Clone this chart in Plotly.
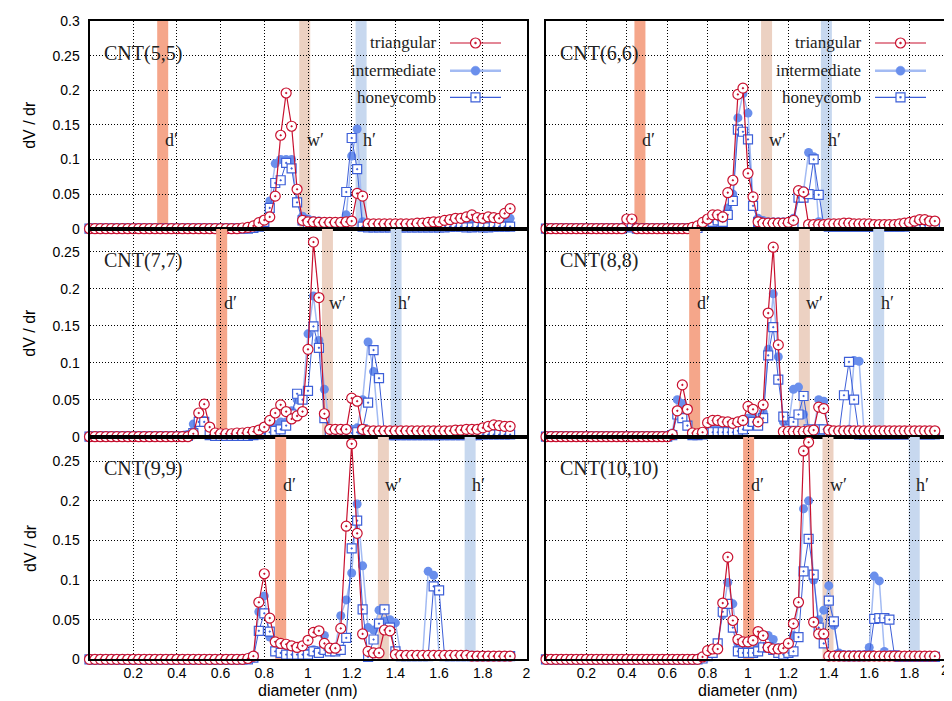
import plotly.graph_objects as go

# ---------------- data ----------------
diameter = [0.0, 0.025, 0.05, 0.075, 0.1, 0.125, 0.15, 0.175, 0.2, 0.225,
            0.25, 0.275, 0.3, 0.325, 0.35, 0.375, 0.4, 0.425, 0.45, 0.475,
            0.5, 0.525, 0.55, 0.575, 0.6, 0.625, 0.65, 0.675, 0.7, 0.725,
            0.75, 0.775, 0.8, 0.825, 0.85, 0.875, 0.9, 0.925, 0.95, 0.975,
            1.0, 1.025, 1.05, 1.075, 1.1, 1.125, 1.15, 1.175, 1.2, 1.225,
            1.25, 1.275, 1.3, 1.325, 1.35, 1.375, 1.4, 1.425, 1.45, 1.475,
            1.5, 1.525, 1.55, 1.575, 1.6, 1.625, 1.65, 1.675, 1.7, 1.725,
            1.75, 1.775, 1.8, 1.825, 1.85, 1.875, 1.9, 1.925]

Z10 = [0] * 10

# CNT(5,5)
tri_55 = Z10 + Z10 + [0, 0, 0, 0, 0, 0, 0, 0, 0.001, 0.002] + \
    [0.004, 0.0087, 0.0125, 0.017, 0.047, 0.135, 0.196, 0.148, 0.057, 0.012,
     0.010, 0.010, 0.009, 0.009, 0.009, 0.009, 0.009, 0.010, 0.011, 0.051,
     0.047, 0.007, 0.007, 0.007, 0.007, 0.007, 0.007, 0.007, 0.007, 0.007,
     0.008, 0.008, 0.009, 0.010, 0.010, 0.012, 0.013, 0.015, 0.015, 0.017,
     0.020, 0.016, 0.015, 0.017, 0.016, 0.015, 0.022, 0.029]
int_55 = Z10 + Z10 + Z10 + \
    [0.002, 0.005, 0.012, 0.040, 0.094, 0.100, 0.100, 0.100, 0.040, 0.018,
     0.014, 0.012, 0.011, 0.010, 0.010, 0.010, 0.010, 0.020, 0.105, 0.144,
     0.010, 0.006, 0.005, 0.005, 0.004, 0.004, 0.004, 0.004, 0.004, 0.004,
     0.004, 0.004, 0.005, 0.005, 0.005, 0.006, 0.006, 0.007, 0.007, 0.008,
     0.008, 0.008, 0.009, 0.009, 0.010, 0.010, 0.012, 0.015]
hon_55 = Z10 + Z10 + Z10 + \
    [0.001, 0.003, 0.010, 0.030, 0.066, 0.070, 0.095, 0.087, 0.038, 0.012,
     0.008, 0.007, 0.006, 0.006, 0.005, 0.005, 0.006, 0.053, 0.131, 0.086,
     0.003, 0.002, 0.002, 0.002, 0.002, 0.002, 0.002, 0.002, 0.002, 0.002,
     0.002, 0.002, 0.002, 0.002, 0.002, 0.002, 0.003, 0.003, 0.003, 0.002,
     0.002, 0.003, 0.002, 0.002, 0.003, 0.003, 0.003, 0.003]

# CNT(6,6)
tri_66 = Z10 + [0, 0, 0, 0, 0, 0, 0.014, 0.014, 0, 0] + \
    [0, 0, 0, 0, 0, 0, 0, 0, 0, 0.002,
     0.004, 0.009, 0.014, 0.020, 0.020, 0.017, 0.052, 0.070, 0.194, 0.203,
     0.080, 0.046, 0.010, 0.008, 0.008, 0.008, 0.008, 0.008, 0.009, 0.012,
     0.055, 0.053, 0.006, 0.006, 0.006, 0.006, 0.007, 0.007, 0.007, 0.008,
     0.008, 0.007, 0.007, 0.007, 0.007, 0.006, 0.006, 0.006, 0.006, 0.006,
     0.007, 0.008, 0.009, 0.011, 0.013, 0.013, 0.011, 0.011]
int_66 = Z10 + [0, 0, 0, 0, 0, 0, 0.006, 0.004, 0, 0] + Z10 + \
    [0.002, 0.006, 0.010, 0.015, 0.015, 0.012, 0.030, 0.050, 0.160, 0.195,
     0.167, 0.040, 0.015, 0.012, 0.010, 0.010, 0.010, 0.010, 0.010, 0.015,
     0.050, 0.055, 0.110, 0.104, 0.010, 0.005, 0.005, 0.005, 0.005, 0.005,
     0.005, 0.005, 0.005, 0.005, 0.005, 0.005, 0.005, 0.006, 0.006, 0.006,
     0.006, 0.007, 0.008, 0.008, 0.009, 0.010, 0.011, 0.012]
hon_66 = Z10 + [0, 0, 0, 0, 0, 0, 0.003, 0.002, 0, 0] + Z10 + \
    [0.001, 0.004, 0.006, 0.010, 0.012, 0.010, 0.020, 0.040, 0.143, 0.140,
     0.129, 0.033, 0.010, 0.007, 0.006, 0.005, 0.005, 0.005, 0.005, 0.008,
     0.045, 0.045, 0.050, 0.100, 0.049, 0.005, 0.003, 0.003, 0.003, 0.003,
     0.003, 0.003, 0.003, 0.003, 0.003, 0.003, 0.003, 0.003, 0.003, 0.003,
     0.003, 0.003, 0.004, 0.004, 0.005, 0.005, 0.005, 0.005]

# CNT(7,7)
tri_77 = Z10 + [0, 0, 0, 0, 0, 0, 0, 0, 0, 0.004] + \
    [0.032, 0.044, 0.013, 0.005, 0.004, 0.004, 0.004, 0.005, 0.005, 0.006,
     0.007, 0.009, 0.013, 0.022, 0.032, 0.043, 0.034, 0.024, 0.028, 0.034,
     0.118, 0.263, 0.188, 0.031, 0.010, 0.010, 0.010, 0.010, 0.052, 0.048,
     0.010, 0.008, 0.008, 0.008, 0.008, 0.008, 0.008, 0.008, 0.008, 0.008,
     0.008, 0.008, 0.008, 0.008, 0.008, 0.008, 0.008, 0.009, 0.009, 0.010,
     0.010, 0.010, 0.012, 0.014, 0.016, 0.015, 0.014, 0.014]
int_77 = Z10 + [0, 0, 0, 0, 0, 0, 0, 0, 0.003, 0.017] + \
    [0.028, 0.022, 0.002, 0.002, 0.002, 0.002, 0.002, 0.002, 0.002, 0.002,
     0.003, 0.004, 0.006, 0.010, 0.016, 0.020, 0.020, 0.035, 0.050, 0.050,
     0.139, 0.190, 0.130, 0.064, 0.008, 0.006, 0.005, 0.005, 0.010, 0.012,
     0.050, 0.128, 0.088, 0.005, 0.004, 0.004, 0.004, 0.004, 0.004, 0.004,
     0.004, 0.004, 0.004, 0.004, 0.004, 0.004, 0.004, 0.004, 0.004, 0.005,
     0.005, 0.005, 0.006, 0.006, 0.007, 0.007, 0.007, 0.008]
hon_77 = Z10 + [0, 0, 0, 0, 0, 0, 0, 0, 0.001, 0.005] + \
    [0.020, 0.020, 0.002, 0.001, 0.001, 0.001, 0.001, 0.001, 0.001, 0.001,
     0.002, 0.003, 0.004, 0.006, 0.008, 0.010, 0.015, 0.030, 0.058, 0.050,
     0.062, 0.149, 0.120, 0.025, 0.005, 0.004, 0.004, 0.004, 0.005, 0.006,
     0.010, 0.046, 0.117, 0.079, 0.003, 0.002, 0.002, 0.002, 0.002, 0.002,
     0.002, 0.002, 0.002, 0.002, 0.002, 0.002, 0.002, 0.002, 0.002, 0.002,
     0.002, 0.002, 0.003, 0.003, 0.003, 0.003, 0.003, 0.003]

# CNT(8,8)
tri_88 = Z10 + Z10 + [0, 0, 0, 0, 0, 0.003, 0.035, 0.070, 0.037, 0.005] + \
    [0.004, 0.006, 0.019, 0.022, 0.022, 0.020, 0.020, 0.018, 0.020, 0.022,
     0.041, 0.037, 0.020, 0.043, 0.167, 0.256, 0.124, 0.007, 0.007, 0.007,
     0.007, 0.007, 0.008, 0.009, 0.040, 0.038, 0.009, 0.008, 0.008, 0.008,
     0.008, 0.008, 0.008, 0.008, 0.008, 0.008, 0.008, 0.008, 0.008, 0.008,
     0.008, 0.008, 0.008, 0.008, 0.008, 0.008, 0.008, 0.008]
int_88 = Z10 + Z10 + [0, 0, 0, 0, 0, 0.005, 0.050, 0.045, 0.015, 0.002] + \
    [0.002, 0.004, 0.008, 0.010, 0.010, 0.010, 0.008, 0.008, 0.010, 0.015,
     0.025, 0.030, 0.020, 0.033, 0.118, 0.193, 0.108, 0.020, 0.015, 0.064,
     0.067, 0.030, 0.010, 0.008, 0.050, 0.048, 0.010, 0.008, 0.008, 0.008,
     0.010, 0.103, 0.102, 0.005, 0.004, 0.004, 0.004, 0.004, 0.004, 0.004,
     0.004, 0.004, 0.004, 0.004, 0.004, 0.004, 0.004, 0.004]
hon_88 = Z10 + Z10 + [0, 0, 0, 0, 0, 0.002, 0.030, 0.025, 0.015, 0.002] + \
    [0.002, 0.003, 0.005, 0.006, 0.006, 0.006, 0.006, 0.006, 0.008, 0.010,
     0.015, 0.020, 0.015, 0.025, 0.110, 0.148, 0.077, 0.027, 0.010, 0.020,
     0.030, 0.055, 0.010, 0.005, 0.010, 0.010, 0.005, 0.004, 0.004, 0.056,
     0.101, 0.050, 0.003, 0.003, 0.003, 0.003, 0.003, 0.003, 0.003, 0.003,
     0.003, 0.003, 0.003, 0.003, 0.003, 0.003, 0.003, 0.003]

# CNT(9,9)
tri_99 = Z10 + Z10 + [0, 0, 0, 0, 0, 0, 0, 0, 0, 0.001] + \
    [0.004, 0.072, 0.108, 0.052, 0.022, 0.020, 0.019, 0.017, 0.015, 0.017,
     0.024, 0.034, 0.036, 0.020, 0.014, 0.014, 0.039, 0.168, 0.272, 0.159,
     0.032, 0.010, 0.008, 0.008, 0.037, 0.036, 0.006, 0.005, 0.005, 0.005,
     0.005, 0.005, 0.005, 0.005, 0.005, 0.005, 0.005, 0.005, 0.005, 0.005,
     0.004, 0.004, 0.004, 0.004, 0.004, 0.004, 0.004, 0.004]
int_99 = Z10 + Z10 + Z10 + \
    [0.002, 0.060, 0.080, 0.028, 0.013, 0.010, 0.008, 0.008, 0.008, 0.008,
     0.008, 0.012, 0.010, 0.030, 0.015, 0.015, 0.055, 0.075, 0.109, 0.196,
     0.118, 0.040, 0.037, 0.062, 0.048, 0.050, 0.046, 0.006, 0.005, 0.005,
     0.005, 0.005, 0.111, 0.106, 0.005, 0.004, 0.004, 0.004, 0.004, 0.004,
     0.004, 0.004, 0.004, 0.004, 0.004, 0.004, 0.004, 0.004]
hon_99 = Z10 + Z10 + Z10 + \
    [0.002, 0.036, 0.058, 0.035, 0.010, 0.008, 0.006, 0.006, 0.006, 0.006,
     0.006, 0.010, 0.008, 0.012, 0.010, 0.010, 0.012, 0.027, 0.140, 0.175,
     0.063, 0.003, 0.025, 0.045, 0.063, 0.040, 0.010, 0.004, 0.004, 0.004,
     0.004, 0.004, 0.004, 0.092, 0.087, 0.004, 0.004, 0.004, 0.004, 0.004,
     0.004, 0.004, 0.004, 0.004, 0.004, 0.004, 0.004, 0.004]

# CNT(10,10)
tri_1010 = Z10 + Z10 + Z10 + \
    [0, 0.003, 0.011, 0.013, 0.013, 0.071, 0.129, 0.049, 0.025, 0.022,
     0.022, 0.024, 0.035, 0.030, 0.015, 0.013, 0.013, 0.014, 0.020, 0.045,
     0.072, 0.263, 0.274, 0.047, 0.032, 0.032, 0.004, 0.004, 0.004, 0.004,
     0.004, 0.004, 0.004, 0.004, 0.004, 0.004, 0.004, 0.004, 0.004, 0.004,
     0.004, 0.004, 0.004, 0.004, 0.004, 0.004, 0.004, 0.004]
int_1010 = Z10 + Z10 + Z10 + \
    [0, 0.002, 0.006, 0.010, 0.020, 0.056, 0.097, 0.070, 0.020, 0.012,
     0.010, 0.010, 0.015, 0.030, 0.030, 0.025, 0.015, 0.012, 0.012, 0.030,
     0.070, 0.190, 0.200, 0.100, 0.050, 0.062, 0.093, 0.043, 0.008, 0.006,
     0.006, 0.006, 0.006, 0.006, 0.015, 0.105, 0.099, 0.010, 0.005, 0.005,
     0.004, 0.004, 0.004, 0.004, 0.004, 0.004, 0.004, 0.004]
hon_1010 = Z10 + Z10 + Z10 + \
    [0, 0.001, 0.004, 0.008, 0.020, 0.060, 0.070, 0.040, 0.010, 0.008,
     0.008, 0.008, 0.010, 0.015, 0.015, 0.012, 0.008, 0.006, 0.008, 0.010,
     0.028, 0.111, 0.152, 0.107, 0.040, 0.020, 0.074, 0.048, 0.005, 0.004,
     0.004, 0.004, 0.004, 0.004, 0.005, 0.051, 0.052, 0.052, 0.050, 0.005,
     0.003, 0.003, 0.003, 0.003, 0.003, 0.003, 0.003, 0.003]

panel_names = ["CNT(5,5)", "CNT(6,6)", "CNT(7,7)", "CNT(8,8)", "CNT(9,9)", "CNT(10,10)"]
triangular = [tri_55, tri_66, tri_77, tri_88, tri_99, tri_1010]
intermediate = [int_55, int_66, int_77, int_88, int_99, int_1010]
honeycomb = [hon_55, hon_66, hon_77, hon_88, hon_99, hon_1010]
# characteristic diameters d', w', h' per panel (nm)
band_d = [0.335, 0.465, 0.605, 0.736, 0.875, 1.003]
band_w = [0.985, 1.092, 1.089, 1.279, 1.345, 1.396]
band_h = [1.243, 1.388, 1.403, 1.647, 1.742, 1.823]
band_labels = ["d′", "w′", "h′"]
x_tick_vals = [0.2, 0.4, 0.6, 0.8, 1.0, 1.2, 1.4, 1.6, 1.8, 2.0]
x_tick_text = ["0.2", "0.4", "0.6", "0.8", "1", "1.2", "1.4", "1.6", "1.8", "2"]
y_tick_vals_top = [0, 0.05, 0.1, 0.15, 0.2, 0.25, 0.3]
y_tick_text_top = ["0", "0.05", "0.1", "0.15", "0.2", "0.25", "0.3"]
y_tick_vals = [0, 0.05, 0.1, 0.15, 0.2, 0.25]
y_tick_text = ["0", "0.05", "0.1", "0.15", "0.2", "0.25"]
series_names = ["triangular", "intermediate", "honeycomb"]

# ---------------- style ----------------
OFF = 8                      # page body margin of the html page
W, H = 952 - OFF, 701 - OFF  # figure size so it fits the window exactly


def fx(px):
    return (px - OFF) / W


def fy(py):
    return 1 - (py - OFF) / H


RED = "#c8102e"
INT_M = "#6a8fec"
INT_L = "#a3bbf3"
HON = "#3d5fd8"
BAND_COL = ["#f5a68a", "#ecd1c2", "#c7d8ef"]
SANS = "Liberation Sans, Arial, sans-serif"
SERIF = "Liberation Serif, Times New Roman, serif"

col_px = [(89.5, 526.5), (546.0, 950.0)]
row_px = [(21.0, 228.7), (228.7, 436.7), (436.7, 659.3)]
y_max = [0.3, 0.281, 0.281]
label_yfrac = [0.427, 0.644, 0.784]

fig = go.Figure()
layout = dict(
    width=W, height=H, autosize=False,
    margin=dict(l=0, r=0, t=0, b=0, pad=0, autoexpand=False),
    paper_bgcolor="white", plot_bgcolor="white", showlegend=False,
)
shapes = []
annotations = []

for k in range(6):
    r, c = divmod(k, 2)
    n = k + 1
    xs = "" if n == 1 else str(n)
    xa, ya = "x" + xs, "y" + xs
    x0p, x1p = col_px[c]
    y0p, y1p = row_px[r]
    # the right column's last label ("2") sits at the window edge: drawn separately
    tv = x_tick_vals if c == 0 else x_tick_vals[:-1]
    tt = x_tick_text if c == 0 else x_tick_text[:-1]
    layout["xaxis" + xs] = dict(
        domain=[fx(x0p), fx(x1p)], anchor=ya, range=[0, 2], automargin=False,
        tickvals=tv, ticktext=tt, showticklabels=(r == 2),
        showgrid=True, gridcolor="black", griddash="1px,2px", gridwidth=1,
        zeroline=False, showline=True, mirror=True, linecolor="black", linewidth=2,
        ticks="", tickfont=dict(family=SANS, size=14, color="black"),
    )
    layout["yaxis" + xs] = dict(
        domain=[fy(y1p), fy(y0p)], anchor=xa, range=[0, y_max[r]], automargin=False,
        tickvals=y_tick_vals_top if r == 0 else y_tick_vals,
        ticktext=y_tick_text_top if r == 0 else y_tick_text,
        showticklabels=(c == 0),
        showgrid=True, gridcolor="black", griddash="1px,2px", gridwidth=1,
        zeroline=False, showline=True, mirror=True, linecolor="black", linewidth=2,
        ticks="", ticklabelstandoff=5, tickfont=dict(family=SANS, size=14, color="black"),
    )

    # bands
    for j, bx in enumerate([band_d[k], band_w[k], band_h[k]]):
        shapes.append(dict(type="line", xref=xa, yref=ya, x0=bx, x1=bx,
                           y0=0, y1=y_max[r], layer="below",
                           line=dict(color=BAND_COL[j], width=11)))
        annotations.append(dict(xref=xa, yref=ya + " domain", x=bx, y=label_yfrac[r],
                                xanchor="left", yanchor="middle", xshift=0,
                                text=band_labels[j], showarrow=False,
                                font=dict(family=SERIF, size=18, color="#222")))

    annotations.append(dict(xref=xa + " domain", yref=ya + " domain", x=0, y=1,
                            xshift=12, yshift=-32, xanchor="left", yanchor="middle",
                            text=panel_names[k], showarrow=False,
                            font=dict(family=SERIF, size=20, color="#222")))

    fig.add_trace(go.Scatter(
        x=diameter, y=intermediate[k], xaxis=xa, yaxis=ya, mode="lines+markers",
        name=series_names[1], cliponaxis=False,
        line=dict(color=INT_L, width=1.5),
        marker=dict(symbol="circle", size=9, color=INT_M, line=dict(width=0))))
    fig.add_trace(go.Scatter(
        x=diameter, y=honeycomb[k], xaxis=xa, yaxis=ya, mode="lines+markers",
        name=series_names[2], cliponaxis=False,
        line=dict(color=HON, width=1),
        marker=dict(symbol="square-dot", size=9, color="white",
                    line=dict(color=HON, width=1.2))))
    fig.add_trace(go.Scatter(
        x=diameter, y=triangular[k], xaxis=xa, yaxis=ya, mode="lines+markers",
        name=series_names[0], cliponaxis=False,
        line=dict(color=RED, width=1.2),
        marker=dict(symbol="circle-dot", size=10, color="white",
                    line=dict(color=RED, width=1.2))))

# last x tick label of the bottom-right panel, kept inside the window
annotations.append(dict(xref="paper", yref="paper", x=fx(951), y=fy(670),
                        xanchor="right", yanchor="middle", text=x_tick_text[-1],
                        showarrow=False, font=dict(family=SANS, size=14, color="black")))

# axis titles
for r in range(3):
    y0p, y1p = row_px[r]
    annotations.append(dict(xref="paper", yref="paper", x=fx(30), y=fy((y0p + y1p) / 2),
                            text="dV / dr", textangle=-90, showarrow=False,
                            xanchor="center", yanchor="middle",
                            font=dict(family=SANS, size=16, color="black")))
for c in range(2):
    x0p, x1p = col_px[c]
    annotations.append(dict(xref="paper", yref="paper", x=fx((x0p + x1p) / 2), y=fy(690),
                            text="diameter (nm)", showarrow=False,
                            xanchor="center", yanchor="middle",
                            font=dict(family=SANS, size=16, color="black")))

# manual legends (text on the left, sample on the right)
leg_rows = [43, 70.7, 97.3]
leg_geo = [(438, 450, 501), (863, 875, 926)]
for (tx, lx0, lx1) in leg_geo:
    mx = (lx0 + lx1) / 2
    for j, yy in enumerate(leg_rows):
        annotations.append(dict(xref="paper", yref="paper", x=fx(tx), y=fy(yy),
                                xanchor="right", yanchor="middle", text=series_names[j],
                                showarrow=False,
                                font=dict(family=SERIF, size=17, color="#222")))
        lc, lw = [(RED, 1.2), (INT_L, 2.5), (HON, 1.2)][j]
        shapes.append(dict(type="line", xref="paper", yref="paper",
                           x0=fx(lx0), x1=fx(lx1), y0=fy(yy), y1=fy(yy),
                           line=dict(color=lc, width=lw)))
        if j == 0:
            rr = 5
            shapes.append(dict(type="circle", xref="paper", yref="paper",
                               x0=fx(mx - rr), x1=fx(mx + rr), y0=fy(yy + rr), y1=fy(yy - rr),
                               fillcolor="white", line=dict(color=RED, width=1.2)))
            shapes.append(dict(type="circle", xref="paper", yref="paper",
                               x0=fx(mx - 1), x1=fx(mx + 1), y0=fy(yy + 1), y1=fy(yy - 1),
                               fillcolor=RED, line=dict(color=RED, width=0.5)))
        elif j == 1:
            rr = 4.5
            shapes.append(dict(type="circle", xref="paper", yref="paper",
                               x0=fx(mx - rr), x1=fx(mx + rr), y0=fy(yy + rr), y1=fy(yy - rr),
                               fillcolor=INT_M, line=dict(color=INT_M, width=0.5)))
        else:
            rr = 4.5
            shapes.append(dict(type="rect", xref="paper", yref="paper",
                               x0=fx(mx - rr), x1=fx(mx + rr), y0=fy(yy + rr), y1=fy(yy - rr),
                               fillcolor="white", line=dict(color=HON, width=1.2)))
            shapes.append(dict(type="rect", xref="paper", yref="paper",
                               x0=fx(mx - 0.8), x1=fx(mx + 0.8), y0=fy(yy + 0.8), y1=fy(yy - 0.8),
                               fillcolor=HON, line=dict(color=HON, width=0.5)))

layout["shapes"] = shapes
layout["annotations"] = annotations
fig.update_layout(**layout)
fig.write_html("out.html")
